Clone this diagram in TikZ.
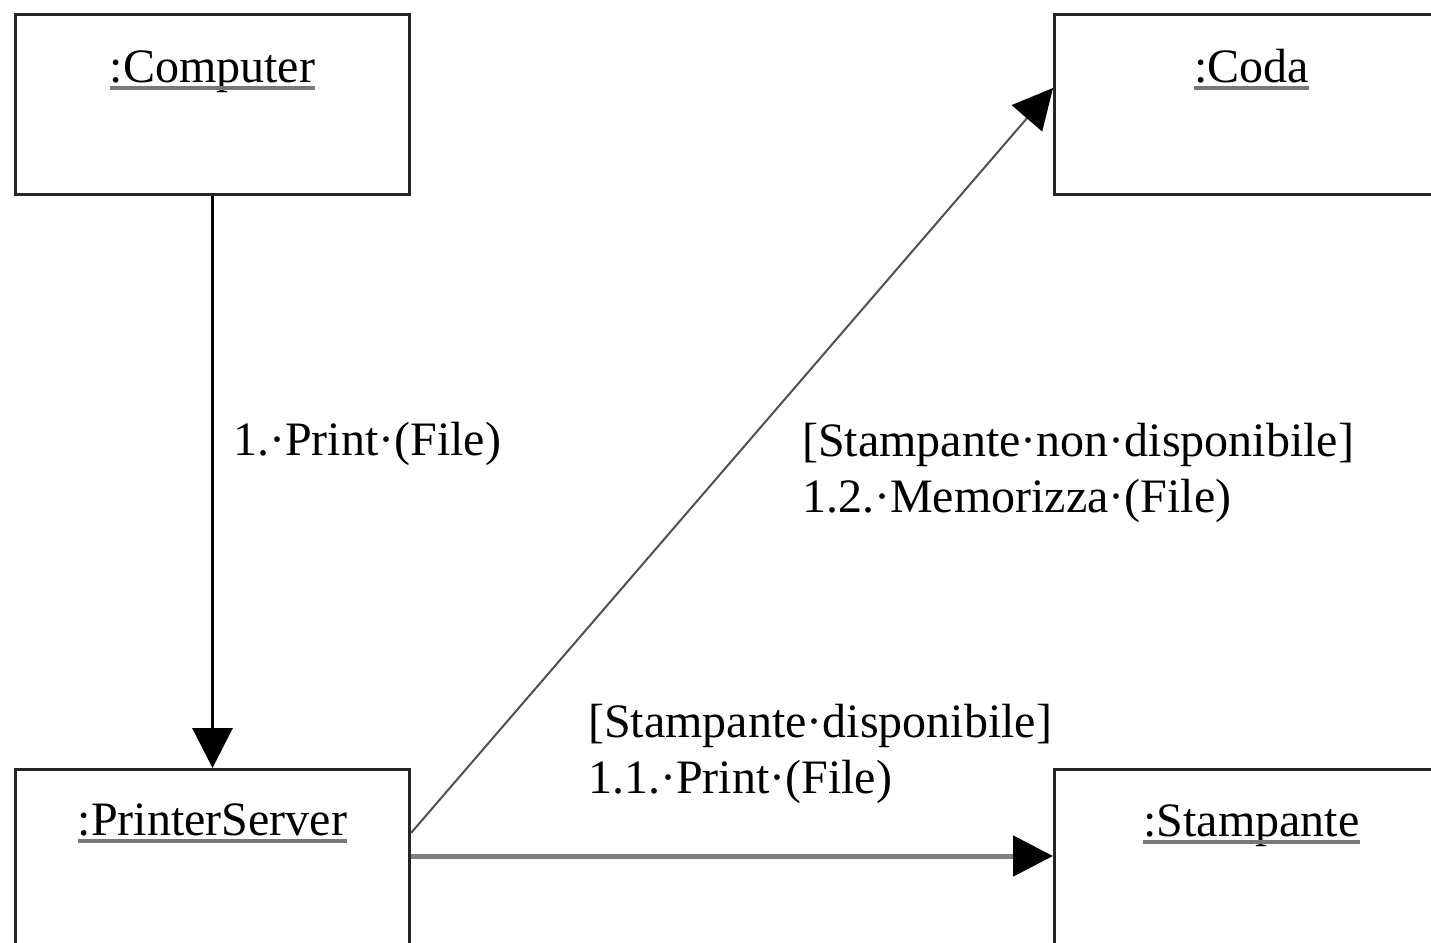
\documentclass[tikz,border=0pt]{standalone}
\usepackage{fontspec}
\setmainfont{Liberation Serif}
\usetikzlibrary{arrows.meta,calc}
\definecolor{boxline}{HTML}{262626}
\definecolor{ulgray}{HTML}{787878}
\definecolor{diaggray}{HTML}{505050}
\definecolor{hgray}{HTML}{808080}
\begin{document}
\begin{tikzpicture}[x=1pt,y=-1pt,
  obj/.style={draw=boxline, line width=3pt, minimum width=394pt,
              minimum height=180pt, inner sep=0pt, anchor=north west},
  title/.style={font=\fontsize{48}{56}\selectfont, inner sep=0pt, anchor=base},
  msg/.style={font=\fontsize{48}{56}\selectfont, inner sep=0pt,
              anchor=base west, align=left},
  uline/.style={draw=ulgray, line width=4pt},
  head/.style={-{Triangle[length=40pt,width=40pt,color=black]}}
]
\useasboundingbox[fill=white] (0,0) rectangle (1431,942);
\clip (0,0) rectangle (1431,942);

% object boxes
\node[obj] (comp)  at (14,13)    {};
\node[obj] (coda)  at (1053,13)  {};
\node[obj] (ps)    at (14,768)   {};
\node[obj] (stamp) at (1053,768) {};

% underlined object names
\node[title] (tcomp)  at ($(comp.north)+(0,69)$)  {:Computer};
\node[title] (tcoda)  at ($(coda.north)+(0,69)$)  {:Coda};
\node[title] (tps)    at ($(ps.north)+(0,67)$)    {:PrinterServer};
\node[title] (tstamp) at ($(stamp.north)+(0,68)$) {:Stampante};
\foreach \t in {tcomp,tcoda,tps,tstamp}
  \draw[uline] ($(\t.base west)+(0,6)$) -- ($(\t.base east)+(0,6)$);

% messages
\draw[head, draw=black, line width=3pt] (comp.south) -- (ps.north);
\draw[head, draw=diaggray, line width=2pt]
  ($(ps.north east)+(0,65)$) -- ($(coda.north west)+(0,75)$);
\draw[head, draw=hgray, line width=5pt]
  ($(ps.north east)+(0,88)$) -- ($(stamp.north west)+(0,88)$);

% message labels (base anchor sits on the last line)
\node[msg] (m1) at (233,455) {1.·Print·(File)};
\node[msg] (m12) at (802,512) {[Stampante·non·disponibile]\\1.2.·Memorizza·(File)};
\node[msg] (m11) at (588,793) {[Stampante·disponibile]\\1.1.·Print·(File)};
\end{tikzpicture}
\end{document}
